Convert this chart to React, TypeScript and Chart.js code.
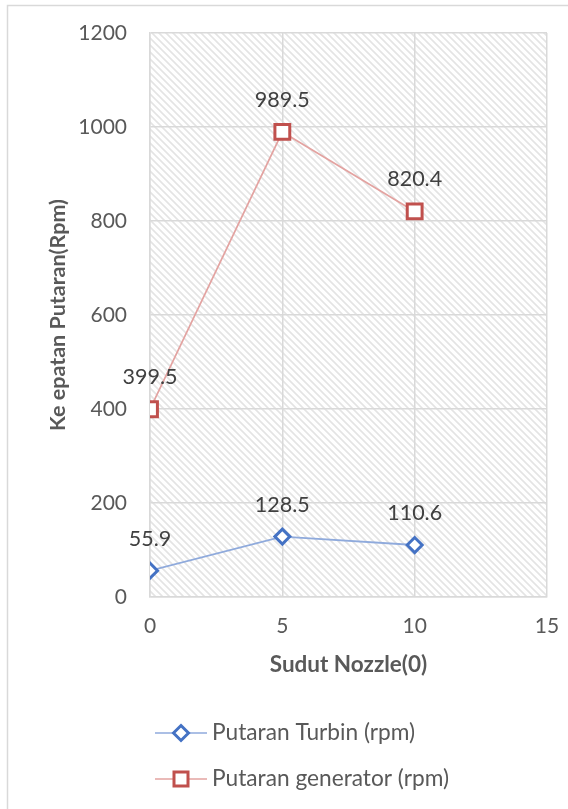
import React, { useEffect, useRef } from "react";
import { Chart, registerables } from "chart.js";

Chart.register(...registerables);

const sudutNozzle = [0, 5, 10];
const putaranTurbin = [55.9, 128.5, 110.6];
const putaranGenerator = [399.5, 989.5, 820.4];
const seriesLabels = ["Putaran Turbin (rpm)", "Putaran generator (rpm)"];
const xTitle = "Sudut Nozzle(0)";
const yTitle = "Ke epatan Putaran(Rpm)";

const FONT = "Lato";
const TEXT = "#595959";
const GRID = "#d9d9d9";
const BLUE = "#4472C4";
const BLUE_LINE = "#8FAADC";
const RED = "#C0504D";
const RED_LINE = "#E3A3A1";

function makePattern(ctx: CanvasRenderingContext2D) {
  const n = 7;
  const c = document.createElement("canvas");
  c.width = n;
  c.height = n;
  const g = c.getContext("2d")!;
  g.strokeStyle = "#e4e4e4";
  g.lineWidth = 1.6;
  g.beginPath();
  g.moveTo(-1, -1);
  g.lineTo(n + 1, n + 1);
  g.moveTo(-1, n - 1);
  g.lineTo(1, n + 1);
  g.moveTo(n - 1, -1);
  g.lineTo(n + 1, 1);
  g.stroke();
  return ctx.createPattern(c, "repeat");
}

const bgPlugin = {
  id: "bgPlugin",
  beforeDraw(chart: any) {
    const { ctx, chartArea } = chart;
    ctx.save();
    ctx.fillStyle = "#ffffff";
    ctx.fillRect(0, 0, chart.width, chart.height);
    ctx.strokeStyle = GRID;
    ctx.lineWidth = 1.5;
    ctx.strokeRect(7.5, 5.5, 800, 1000);
    const p = makePattern(ctx);
    if (p) {
      ctx.fillStyle = p;
      ctx.fillRect(chartArea.left, chartArea.top, chartArea.right - chartArea.left, chartArea.bottom - chartArea.top);
    }
    ctx.restore();
  },
};

const labelPlugin = {
  id: "labelPlugin",
  afterDatasetsDraw(chart: any) {
    const { ctx } = chart;
    ctx.save();
    ctx.font = `21.5px ${FONT}`;
    ctx.fillStyle = "#404040";
    ctx.textAlign = "center";
    ctx.textBaseline = "middle";
    chart.data.datasets.forEach((ds: any, i: number) => {
      const meta = chart.getDatasetMeta(i);
      meta.data.forEach((pt: any, j: number) => {
        ctx.fillText(String(ds.data[j].y), pt.x, pt.y - 32);
      });
    });
    ctx.restore();
  },
};

const legendPlugin = {
  id: "legendPlugin",
  afterDraw(chart: any) {
    const { ctx } = chart;
    const rows = [
      { y: 733, line: BLUE_LINE, color: BLUE, style: "diamond", text: seriesLabels[0] },
      { y: 779, line: RED_LINE, color: RED, style: "square", text: seriesLabels[1] },
    ];
    ctx.save();
    rows.forEach((r) => {
      ctx.strokeStyle = r.line;
      ctx.lineWidth = 1.5;
      ctx.beginPath();
      ctx.moveTo(155, r.y);
      ctx.lineTo(207, r.y);
      ctx.stroke();
      ctx.strokeStyle = r.color;
      ctx.fillStyle = "#ffffff";
      ctx.lineWidth = 3;
      ctx.beginPath();
      if (r.style === "diamond") {
        ctx.moveTo(181, r.y - 7.5);
        ctx.lineTo(188.5, r.y);
        ctx.lineTo(181, r.y + 7.5);
        ctx.lineTo(173.5, r.y);
        ctx.closePath();
      } else {
        ctx.rect(174, r.y - 7, 14, 14);
      }
      ctx.fill();
      ctx.stroke();
      ctx.fillStyle = TEXT;
      ctx.font = `22.7px ${FONT}`;
      ctx.textAlign = "left";
      ctx.textBaseline = "middle";
      ctx.fillText(r.text, 212, r.y);
    });
    ctx.restore();
  },
};

export default function App() {
  const ref = useRef<HTMLCanvasElement>(null);
  useEffect(() => {
    if (!ref.current) return;
    const chart = new Chart(ref.current, {
      type: "line",
      data: {
        datasets: [
          {
            label: seriesLabels[0],
            data: sudutNozzle.map((x, i) => ({ x, y: putaranTurbin[i] })),
            borderColor: BLUE_LINE,
            borderWidth: 1.8,
            pointStyle: "rectRot",
            pointRadius: 7.5,
            pointBorderWidth: 3,
            pointBorderColor: BLUE,
            pointBackgroundColor: "#ffffff",
            tension: 0,
          },
          {
            label: seriesLabels[1],
            data: sudutNozzle.map((x, i) => ({ x, y: putaranGenerator[i] })),
            borderColor: RED_LINE,
            borderWidth: 1.8,
            pointStyle: "rect",
            pointRadius: 10.5,
            pointBorderWidth: 3,
            pointBorderColor: RED,
            pointBackgroundColor: "#ffffff",
            tension: 0,
          },
        ],
      },
      options: {
        responsive: false,
        animation: false,
        devicePixelRatio: 1,
        layout: { padding: { left: 0, top: 33, right: 21, bottom: 127 } },
        plugins: {
          legend: { display: false },
          tooltip: { enabled: false },
        },
        scales: {
          x: {
            type: "linear",
            min: 0,
            max: 15,
            ticks: {
              stepSize: 5,
              padding: 17,
              color: TEXT,
              font: { family: FONT, size: 21 },
              callback: (v: any) => String(v),
            },
            grid: { color: GRID, lineWidth: 1.5, drawTicks: false },
            border: { display: true, color: GRID, width: 1.5 },
            title: {
              display: true,
              text: xTitle,
              color: TEXT,
              font: { family: FONT, size: 22.5, weight: "bold" },
              padding: { top: 0, bottom: 3.5 },
            },
            afterFit: (s: any) => {
              s.height = 85;
              s.paddingLeft = 0;
              s.paddingRight = 0;
            },
          },
          y: {
            type: "linear",
            min: 0,
            max: 1200,
            ticks: {
              stepSize: 200,
              padding: 23,
              color: TEXT,
              font: { family: FONT, size: 21 },
              callback: (v: any) => String(v),
            },
            grid: { color: GRID, lineWidth: 1.5, drawTicks: false },
            border: { display: true, color: GRID, width: 1.5 },
            title: {
              display: true,
              text: yTitle,
              color: TEXT,
              font: { family: FONT, size: 21.5, weight: "bold" },
              padding: { top: 45, bottom: 0 },
            },
            afterFit: (s: any) => {
              s.width = 150;
              s.paddingTop = 0;
              s.paddingBottom = 0;
            },
          },
        },
      },
      plugins: [bgPlugin, labelPlugin, legendPlugin],
    } as any);
    return () => chart.destroy();
  }, []);
  return (
    <div style={{ position: "fixed", left: 0, top: 0, width: 568, height: 809 }}>
      <canvas ref={ref} width={568} height={809} style={{ display: "block" }} />
    </div>
  );
}
